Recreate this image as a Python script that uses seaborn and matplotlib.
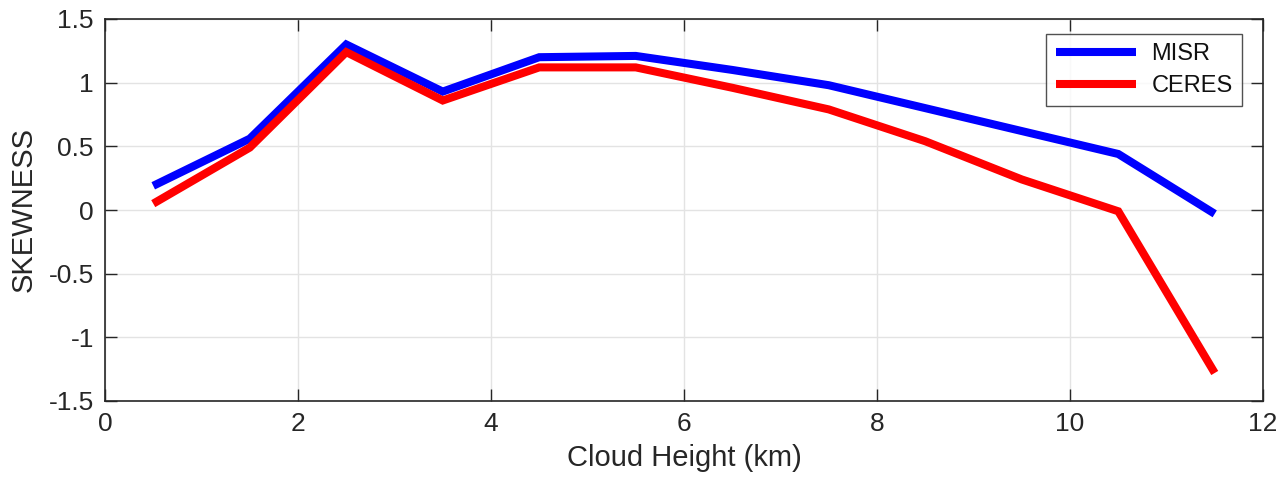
import matplotlib
matplotlib.use("Agg")
import matplotlib.pyplot as plt
import seaborn as sns
import pandas as pd

heights = [0.5, 1.5, 2.5, 3.5, 4.5, 5.5, 6.5, 7.5, 8.5, 9.5, 10.5, 11.5]
misr = [0.19, 0.56, 1.30, 0.93, 1.20, 1.21, 1.10, 0.98, 0.80, 0.62, 0.44, -0.03]
ceres = [0.05, 0.49, 1.24, 0.86, 1.12, 1.12, 0.96, 0.79, 0.54, 0.24, -0.01, -1.28]
series_names = ["MISR", "CERES"]
series_colors = ["#0000ff", "#ff0000"]

df = pd.DataFrame({
    "Cloud Height (km)": heights * 2,
    "SKEWNESS": misr + ceres,
    "series": [series_names[0]] * len(heights) + [series_names[1]] * len(heights),
})

sns.set_theme(style="white")
plt.rcParams["font.family"] = ["Liberation Sans", "DejaVu Sans"]
plt.rcParams["lines.solid_capstyle"] = "butt"
plt.rcParams["lines.solid_joinstyle"] = "miter"

fig = plt.figure(figsize=(12.83, 4.83), dpi=100)
ax = fig.add_axes([105 / 1283, 1 - 401 / 483, (1263 - 105) / 1283, (401 - 19) / 483])

sns.lineplot(data=df, x="Cloud Height (km)", y="SKEWNESS", hue="series",
             palette=dict(zip(series_names, series_colors)), linewidth=5.8,
             ax=ax, sort=False, estimator=None)

ax.set_xlim(0, 12)
ax.set_ylim(-1.5, 1.5)
ax.set_xticks(range(0, 13, 2))
ax.set_yticks([-1.5, -1, -0.5, 0, 0.5, 1, 1.5])
ax.set_yticklabels(["-1.5", "-1", "-0.5", "0", "0.5", "1", "1.5"])
ax.grid(True, color="#e3e3e3", linewidth=1)
ax.set_axisbelow(True)
for s in ax.spines.values():
    s.set_color("#262626")
    s.set_linewidth(1.2)
ax.tick_params(direction="in", length=8.5, width=1.0, color="#262626",
               labelsize=19, labelcolor="#262626", top=True, right=True,
               left=True, bottom=True, pad=8)
ax.set_xlabel("Cloud Height (km)", fontsize=21, color="#262626", labelpad=6)
ax.set_ylabel("SKEWNESS", fontsize=21, color="#262626", labelpad=8)

leg = ax.legend(loc="upper right", bbox_to_anchor=(1 - 21 / 1158, 1 - 15 / 382),
                borderaxespad=0, fontsize=17, frameon=True, fancybox=False,
                handlelength=3.4, borderpad=0.4, labelspacing=0.4,
                handletextpad=0.65, title=None)
leg.get_frame().set_edgecolor("#262626")
leg.get_frame().set_linewidth(1.0)
for t in leg.get_texts():
    t.set_color("#111111")

fig.savefig("out.png", dpi=100)
